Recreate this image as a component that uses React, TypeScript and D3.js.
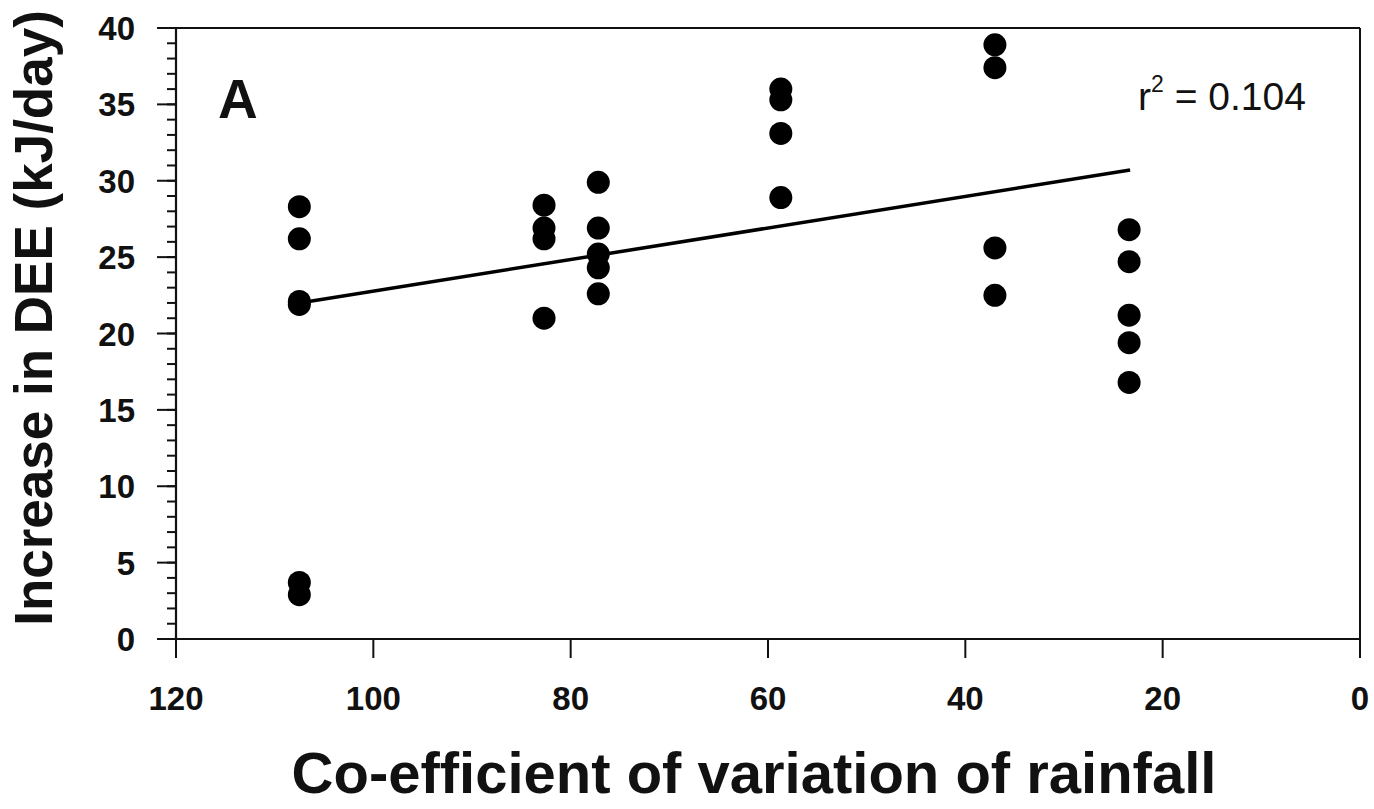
import React from "react";
import * as d3 from "d3";

// ---- data ----
const cvRainfall: number[] = [
  107.5, 107.5, 107.5, 107.5, 107.5, 107.5,
  82.7, 82.7, 82.7, 82.7,
  77.2, 77.2, 77.2, 77.2, 77.2,
  58.7, 58.7, 58.7, 58.7,
  37.0, 37.0, 37.0, 37.0,
  23.4, 23.4, 23.4, 23.4, 23.4,
];
const deeIncrease: number[] = [
  28.3, 26.2, 22.1, 21.9, 3.7, 2.9,
  28.4, 26.9, 26.2, 21.0,
  29.9, 26.9, 25.2, 24.3, 22.6,
  36.0, 35.3, 33.1, 28.9,
  38.9, 37.4, 25.6, 22.5,
  26.8, 24.7, 21.2, 19.4, 16.8,
];
const fitX: number[] = [107.5, 23.3];
const fitY: number[] = [22.0, 30.7];
const xTicks: number[] = [120, 100, 80, 60, 40, 20, 0];
const yTicks: number[] = [0, 5, 10, 15, 20, 25, 30, 35, 40];
const yMinorTicks: number[] = d3.range(0, 41, 1);
const xTitle = "Co-efficient of variation of rainfall";
const yTitle = "Increase in DEE (kJ/day)";
const panelLabel = "A";
const r2Text = "0.104";

const W = 1374;
const H = 809;
const left = 176;
const right = 1360;
const top = 28;
const bottom = 639;
const FONT = "'Liberation Sans', Arial, Helvetica, sans-serif";

export default function App() {
  const x = d3.scaleLinear().domain([120, 0]).range([left, right]);
  const y = d3.scaleLinear().domain([0, 40]).range([bottom, top]);
  const line = d3
    .line<number>()
    .x((_, i) => x(fitX[i]))
    .y((d) => y(d));

  return (
    <svg
      width={W}
      height={H}
      style={{ position: "absolute", left: 0, top: 0, background: "#fff" }}
      fontFamily={FONT}
    >
      <rect x={0} y={0} width={W} height={H} fill="#fff" />
      {/* frame: top and right */}
      <line x1={left} x2={right} y1={top} y2={top} stroke="#111" strokeWidth={2} />
      <line x1={right} x2={right} y1={top} y2={bottom} stroke="#111" strokeWidth={2} />
      {/* axes */}
      <line x1={left} x2={right} y1={bottom} y2={bottom} stroke="#111" strokeWidth={2.2} />
      <line x1={left} x2={left} y1={top} y2={bottom} stroke="#111" strokeWidth={2.2} />

      {/* y minor ticks */}
      {yMinorTicks.map((t) => (
        <line key={"ym" + t} x1={left - 9} x2={left} y1={y(t)} y2={y(t)} stroke="#111" strokeWidth={2} />
      ))}
      {/* y major ticks + labels */}
      {yTicks.map((t) => (
        <g key={"y" + t}>
          <line x1={left - 19} x2={left} y1={y(t)} y2={y(t)} stroke="#111" strokeWidth={2} />
          <text
            x={135}
            y={y(t) + 12}
            textAnchor="end"
            fontSize={33}
            fontWeight="bold"
            fill="#111"
          >
            {t}
          </text>
        </g>
      ))}
      {/* x ticks + labels */}
      {xTicks.map((t) => (
        <g key={"x" + t}>
          <line x1={x(t)} x2={x(t)} y1={bottom} y2={bottom + 19} stroke="#111" strokeWidth={2} />
          <text
            x={x(t)}
            y={710}
            textAnchor="middle"
            fontSize={33}
            fontWeight="bold"
            fill="#111"
          >
            {t}
          </text>
        </g>
      ))}

      {/* regression line */}
      <path d={line(fitY) || ""} fill="none" stroke="#000" strokeWidth={3.5} />

      {/* points */}
      {cvRainfall.map((cv, i) => (
        <circle key={"p" + i} cx={x(cv)} cy={y(deeIncrease[i])} r={11.5} fill="#000" />
      ))}

      {/* panel label */}
      <text x={218} y={118} fontSize={55} fontWeight="bold" fill="#111">
        {panelLabel}
      </text>

      {/* r^2 */}
      <text x={1138} y={110} fontSize={39} fill="#111">
        r
        <tspan dy={-18} fontSize={23}>2</tspan>
        <tspan dy={18}>{" = " + r2Text}</tspan>
      </text>

      {/* axis titles */}
      <text
        x={(left + right) / 2 - 14}
        y={793}
        textAnchor="middle"
        fontSize={58}
        fontWeight="bold"
        fill="#111"
      >
        {xTitle}
      </text>
      <text
        transform={`translate(52, 318) rotate(-90)`}
        textAnchor="middle"
        fontSize={53}
        fontWeight="bold"
        fill="#111"
      >
        {yTitle}
      </text>
    </svg>
  );
}
